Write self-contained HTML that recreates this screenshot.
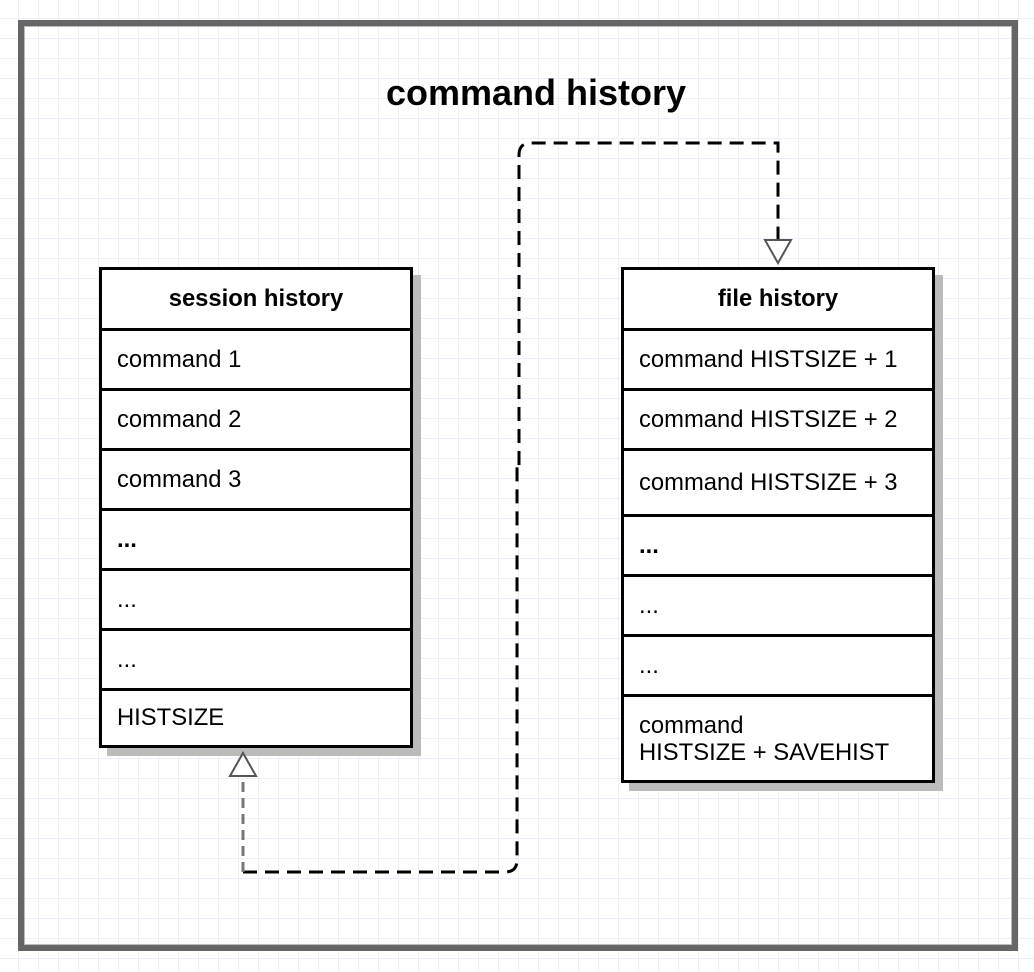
<!DOCTYPE html>
<html><head><style>
html,body{margin:0;padding:0;}
body{width:1034px;height:972px;position:relative;overflow:hidden;background:#fff;
background-image:linear-gradient(#eeeefb 1px,transparent 1px),linear-gradient(90deg,#eeeefb 1px,transparent 1px);
background-size:20px 20px;background-position:-2px -2px;font-family:"Liberation Sans",sans-serif;}
.frame{position:absolute;left:18px;top:20px;width:988px;height:919px;border:6px solid #666;box-shadow:inset 0 0 0 1px #bbb;}
.title{position:absolute;left:0;width:1072px;top:72px;text-align:center;font-weight:bold;font-size:36px;}
.tbl{position:absolute;border:3px solid #000;background:#fff;box-shadow:8px 8px 0 #bbb;}
.row{border-top:3px solid #000;box-sizing:border-box;font-size:23.8px;padding-left:15px;display:flex;align-items:center;}
.hdr{font-weight:bold;justify-content:center;padding-left:0;border-top:none;}
svg{position:absolute;left:0;top:0;}
</style></head><body>
<div class="frame"></div>
<div class="title">command history</div>
<div class="tbl" style="left:99px;top:267px;width:308px;height:475px;">
<div class="row hdr" style="height:58px">session history</div>
<div class="row" style="height:60px">command 1</div>
<div class="row" style="height:60px">command 2</div>
<div class="row" style="height:60px">command 3</div>
<div class="row" style="height:60px;font-weight:bold">...</div>
<div class="row" style="height:60px">...</div>
<div class="row" style="height:60px">...</div>
<div class="row" style="height:57px">HISTSIZE</div>
</div>
<div class="tbl" style="left:621px;top:267px;width:308px;height:510px;">
<div class="row hdr" style="height:58px">file history</div>
<div class="row" style="height:60px">command HISTSIZE + 1</div>
<div class="row" style="height:60px">command HISTSIZE + 2</div>
<div class="row" style="height:66px">command HISTSIZE + 3</div>
<div class="row" style="height:60px;font-weight:bold">...</div>
<div class="row" style="height:60px">...</div>
<div class="row" style="height:60px">...</div>
<div class="row" style="height:86px;line-height:27px;">command<br>HISTSIZE + SAVEHIST</div>
</div>
<svg width="1034" height="972">
<path d="M243 872 H505 Q517 872 517 860 V465" fill="none" stroke="#000" stroke-width="3" stroke-dasharray="14 8"/>
<path d="M519 465 V155 Q519 143 531 143 H778 V240" fill="none" stroke="#000" stroke-width="3" stroke-dasharray="14 8"/>
<path d="M243 872 V778" fill="none" stroke="#777" stroke-width="3" stroke-dasharray="10 6"/>
<polygon points="243,753 230,776 256,776" fill="#fff" stroke="#555" stroke-width="2"/>
<polygon points="778,263 765,240 791,240" fill="#fff" stroke="#555" stroke-width="2"/>
</svg>
</body></html>
